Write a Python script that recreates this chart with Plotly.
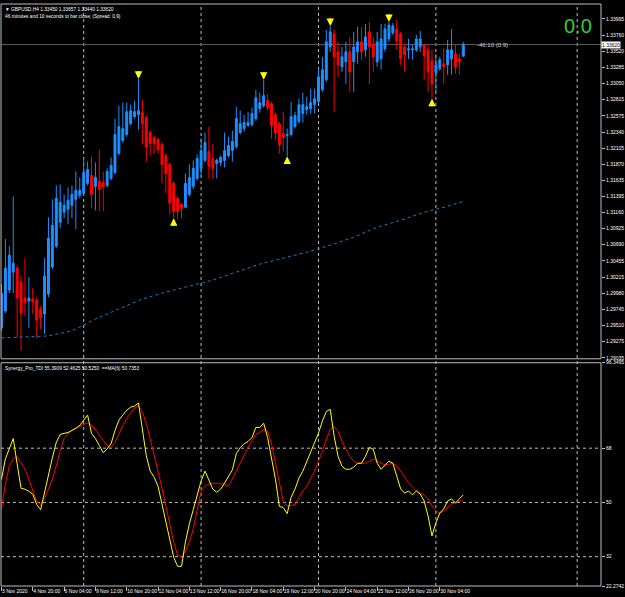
import plotly.graph_objects as go

# ---------------- data ----------------
bars = list(range(119))
open_ = [1.29472,1.29720,1.30027,1.30289,1.30348,1.30143,1.29910,1.29866,1.29895,1.29881,
         1.29749,1.29676,1.29968,1.30362,1.30668,1.31019,1.31165,1.31208,1.31267,1.31354,
         1.31413,1.31442,1.31588,1.31704,1.31544,1.31617,1.31602,1.31558,1.31661,1.31748,
         1.32025,1.32215,1.32303,1.32463,1.32565,1.32594,1.32624,1.32551,1.32332,1.32259,
         1.32230,1.32157,1.31996,1.31865,1.31588,1.31369,1.31281,1.31238,1.31427,1.31544,
         1.31661,1.31807,1.31923,1.32055,1.31952,1.31879,1.31894,1.31923,1.31996,1.32069,
         1.32127,1.32332,1.32390,1.32434,1.32448,1.32536,1.32682,1.32726,1.32799,1.32755,
         1.32594,1.32463,1.32317,1.32288,1.32303,1.32419,1.32492,1.32609,1.32667,1.32682,
         1.32740,1.32784,1.32959,1.33105,1.33586,1.33776,1.33514,1.33295,1.33368,1.33514,
         1.33368,1.33514,1.33659,1.33543,1.33805,1.33630,1.33368,1.33411,1.33557,1.33703,
         1.33791,1.33849,1.33776,1.33586,1.33543,1.33543,1.33543,1.33586,1.33616,1.33543,
         1.33382,1.33207,1.33265,1.33338,1.33324,1.33411,1.33484,1.33411,1.33450]
high = [1.30114,1.30771,1.30668,1.31398,1.30391,1.30231,1.30493,1.30216,1.30056,1.29924,
        1.29793,1.30493,1.31092,1.31354,1.31558,1.31573,1.31427,1.31529,1.31558,1.31763,
        1.31675,1.31952,1.31909,1.31982,1.31894,1.32084,1.31763,1.31807,1.31967,1.32536,
        1.32726,1.32769,1.32769,1.32740,1.32799,1.33120,1.32813,1.32580,1.32361,1.32288,
        1.32259,1.32186,1.32025,1.31894,1.31617,1.31398,1.31296,1.31734,1.31865,1.31923,
        1.32011,1.32244,1.32332,1.32419,1.32171,1.31952,1.31996,1.32332,1.32273,1.32361,
        1.32711,1.32653,1.32594,1.32638,1.32697,1.32959,1.32915,1.33105,1.32901,1.32784,
        1.32624,1.32492,1.32638,1.32390,1.32784,1.32638,1.32828,1.32915,1.32857,1.32974,
        1.32974,1.33265,1.33441,1.33834,1.33893,1.33834,1.33659,1.33586,1.33659,1.33732,
        1.33805,1.33878,1.33878,1.33922,1.33951,1.33732,1.33805,1.33922,1.33922,1.33951,
        1.33937,1.33980,1.33805,1.33630,1.33703,1.33616,1.33762,1.33820,1.33630,1.33616,
        1.33543,1.33484,1.33441,1.33572,1.33689,1.33849,1.33616,1.33484,1.33657]
low = [1.29428,1.29691,1.29983,1.29983,1.29326,1.29137,1.29647,1.29472,1.29676,1.29326,
       1.29458,1.29385,1.29924,1.30333,1.30639,1.30931,1.31077,1.30989,1.31077,1.30917,
       1.31369,1.31413,1.31558,1.31223,1.31194,1.31179,1.31179,1.31529,1.31631,1.31719,
       1.31996,1.32186,1.32273,1.32434,1.32536,1.32376,1.32157,1.31909,1.31996,1.32025,
       1.32025,1.31588,1.31442,1.31135,1.31077,1.31062,1.31077,1.31223,1.31398,1.31500,
       1.31631,1.31690,1.31894,1.31661,1.31646,1.31661,1.31836,1.31821,1.31967,1.31909,
       1.32098,1.32303,1.32346,1.32419,1.32419,1.32507,1.32624,1.32697,1.32653,1.32244,
       1.32230,1.32025,1.32055,1.31982,1.32273,1.32390,1.32463,1.32478,1.32594,1.32609,
       1.32609,1.32755,1.32930,1.33076,1.33514,1.32638,1.33149,1.33222,1.33047,1.32930,
       1.32930,1.33338,1.33397,1.33441,1.33047,1.33222,1.33295,1.33251,1.33514,1.33659,
       1.33762,1.33543,1.33324,1.33222,1.33411,1.33397,1.33514,1.33514,1.33105,1.32930,
       1.32828,1.32930,1.33236,1.33047,1.33178,1.33178,1.33193,1.33178,1.33440]
close = [1.29983,1.30348,1.30537,1.30420,1.29910,1.29691,1.29837,1.29910,1.29851,1.29589,
         1.29618,1.30231,1.30785,1.30975,1.31369,1.31310,1.31267,1.31340,1.31427,1.31486,
         1.31486,1.31748,1.31792,1.31427,1.31675,1.31500,1.31544,1.31763,1.31850,1.32303,
         1.32419,1.32390,1.32638,1.32653,1.32638,1.32653,1.32463,1.32113,1.32171,1.32171,
         1.32084,1.31865,1.31734,1.31296,1.31179,1.31179,1.31223,1.31588,1.31675,1.31807,
         1.31952,1.32069,1.32186,1.31836,1.31807,1.31923,1.31967,1.32069,1.32142,1.32200,
         1.32536,1.32463,1.32478,1.32478,1.32609,1.32842,1.32769,1.32872,1.32697,1.32434,
         1.32332,1.32157,1.32259,1.32303,1.32565,1.32580,1.32740,1.32740,1.32711,1.32769,
         1.32828,1.33149,1.33251,1.33659,1.33805,1.33441,1.33324,1.33441,1.33514,1.33222,
         1.33586,1.33659,1.33514,1.33732,1.33586,1.33441,1.33659,1.33703,1.33849,1.33907,
         1.33893,1.33674,1.33411,1.33470,1.33557,1.33557,1.33703,1.33703,1.33455,1.33222,
         1.33047,1.33324,1.33397,1.33295,1.33543,1.33543,1.33295,1.33368,1.33620]

ma_bars = [0, 6, 12, 18, 24, 30, 36, 42, 48, 54, 60, 66, 72, 78, 84, 90, 96, 102, 108, 114, 118]
ma_vals = [1.29326,1.29341,1.29355,1.29428,1.29603,1.29749,1.29895,1.29997,1.30085,1.30172,
           1.30289,1.30406,1.30493,1.30581,1.30683,1.30800,1.30946,1.31048,1.31165,1.31252,1.31325]

down_bars = [35, 67, 84, 99]   # sell arrows above these bars' highs
up_bars = [44, 73, 110]        # buy arrows below these bars' lows

tdi_price = [57.7,64.5,67.8,71.2,62.8,54.7,54.4,53.7,52.7,49.3,
             47.6,53.7,59.8,64.8,69.9,72.6,72.9,73.2,73.9,74.6,
             75.6,77.3,79.0,72.9,71.2,68.9,66.5,67.8,69.5,73.9,
             77.3,79.0,80.6,81.6,82.0,83.0,74.9,65.5,60.4,58.4,
             55.4,49.3,43.6,37.9,31.8,28.8,28.8,36.9,42.9,47.6,
             52.7,57.1,60.4,57.1,54.4,53.4,54.4,56.4,58.8,60.8,
             66.2,68.2,69.5,70.2,71.5,74.9,74.9,76.3,71.5,64.8,
             57.7,48.7,48.3,46.3,51.7,54.4,58.1,60.4,63.7,67.0,
             70.3,73.0,77.0,80.2,80.9,72.0,65.3,62.0,61.0,61.0,
             61.7,63.0,63.0,65.3,68.3,67.6,63.0,61.0,62.4,63.7,
             63.0,58.7,54.5,53.1,53.8,52.5,53.8,52.8,50.5,45.5,
             38.9,43.2,46.5,47.9,50.5,51.2,49.8,51.2,52.5]
tdi_signal = [48.0,56.1,62.1,64.5,65.2,63.1,61.1,57.7,53.7,50.3,
              49.3,51.3,54.4,57.7,62.1,67.2,71.2,72.9,73.9,74.6,
              75.3,75.9,76.3,75.6,74.2,72.2,70.5,68.9,68.2,69.9,
              72.9,75.6,77.9,79.6,81.3,82.0,80.0,76.3,71.2,66.2,
              60.4,54.7,48.7,42.6,36.9,32.5,31.8,33.8,36.9,41.2,
              47.6,53.7,55.4,56.1,56.4,56.4,56.1,56.1,55.4,57.7,
              60.4,63.1,65.8,68.2,70.5,72.6,73.2,74.2,73.6,69.5,
              63.1,56.4,50.3,48.7,49.0,49.3,51.7,53.8,55.4,57.8,
              60.4,63.7,67.0,71.0,74.3,75.2,73.6,70.3,67.7,65.3,
              63.7,63.0,63.0,63.0,63.7,64.4,63.7,63.0,62.4,62.7,
              63.0,62.0,60.4,58.4,56.4,55.1,53.8,53.1,52.5,51.2,
              48.8,47.2,46.5,47.2,48.5,49.5,49.8,50.5,50.5]

x_tick_bars = [0, 8, 16, 24, 32, 40, 48, 56, 64, 72, 80, 88, 96, 104, 112]
x_tick_text = ["3 Nov 2020", "4 Nov 20:00", "6 Nov 04:00", "9 Nov 12:00", "10 Nov 20:00",
               "12 Nov 04:00", "13 Nov 12:00", "16 Nov 20:00", "18 Nov 04:00", "19 Nov 12:00",
               "20 Nov 20:00", "24 Nov 04:00", "25 Nov 12:00", "26 Nov 20:00", "30 Nov 04:00"]
price_ticks = [1.33995,1.33760,1.33520,1.33285,1.33050,1.32815,1.32575,1.32340,1.32105,1.31870,
               1.31635,1.31395,1.31160,1.30925,1.30690,1.30455,1.30215,1.29980,1.29745,1.29510,
               1.29275,1.29035]
tdi_ticks = [96.3495, 68, 50, 32, 22.2742]
tdi_tick_text = ["96.3495", "68", "50", "32", "22.2742"]
tdi_levels = [68, 50, 32]
separator_bars = [21, 51, 81, 111, 147.1]
current_price = 1.33620

# ---------------- figure ----------------
FONT = "Liberation Sans, Arial, sans-serif"
BLUE = "#1E90FF"
RED = "#FF0000"
YEL = "#FFFF00"
GRID = "#bdbdbd"
FS = 5

fig = go.Figure()

fig.add_trace(go.Scatter(x=ma_bars, y=ma_vals, mode="lines",
                         line=dict(color="#1b7cc4", width=1, dash="dot"),
                         xaxis="x", yaxis="y", hoverinfo="skip"))

fig.add_trace(go.Candlestick(x=bars, open=open_, high=high, low=low, close=close,
                             increasing=dict(line=dict(color=BLUE, width=1), fillcolor=BLUE),
                             decreasing=dict(line=dict(color=RED, width=1), fillcolor=RED),
                             whiskerwidth=0, xaxis="x", yaxis="y"))

fig.add_trace(go.Scatter(x=bars, y=tdi_signal, mode="lines",
                         line=dict(color=RED, width=1), xaxis="x2", yaxis="y2"))
fig.add_trace(go.Scatter(x=bars, y=tdi_price, mode="lines",
                         line=dict(color=YEL, width=1), xaxis="x2", yaxis="y2"))

xr = [-0.128, 153.19]
UP_DOM = [0.3904, 1.0]
LO_DOM = [0.0, 0.3836]

fig.update_layout(
    width=625, height=597,
    margin=dict(l=1, r=23, t=2, b=11),
    paper_bgcolor="black", plot_bgcolor="black",
    showlegend=False,
    font=dict(family=FONT, size=FS, color="white"),
    xaxis=dict(domain=[0, 1], range=xr, showticklabels=False, showgrid=False,
               zeroline=False, rangeslider=dict(visible=False), anchor="y",
               matches="x2"),
    xaxis2=dict(domain=[0, 1], range=xr, anchor="y2", showgrid=False, zeroline=False,
                tickmode="array", tickvals=x_tick_bars, ticktext=x_tick_text,
                ticks="outside", ticklen=4, tickcolor=GRID, tickangle=0,
                ticklabelposition="outside right",
                tickfont=dict(family=FONT, size=FS, color="white")),
    yaxis=dict(domain=UP_DOM, range=[1.29020, 1.34214], side="right", showgrid=False,
               zeroline=False, tickmode="array", tickvals=price_ticks,
               ticktext=[f"{v:.5f}" for v in price_ticks],
               ticks="outside", ticklen=3, tickcolor=GRID,
               tickfont=dict(family=FONT, size=FS, color="white")),
    yaxis2=dict(domain=LO_DOM, range=[22.2742, 96.3495], side="right", showgrid=False,
                zeroline=False, tickmode="array", tickvals=tdi_ticks,
                ticktext=tdi_tick_text,
                ticks="outside", ticklen=3, tickcolor=GRID,
                tickfont=dict(family=FONT, size=FS, color="white")),
)

shapes = []
for b in separator_bars:
    shapes.append(dict(type="line", xref="x", yref="paper", x0=b, x1=b, y0=0, y1=1,
                       line=dict(color=GRID, width=1, dash="dot"), layer="below"))
for lv in tdi_levels:
    shapes.append(dict(type="line", xref="paper", yref="y2", x0=0, x1=1, y0=lv, y1=lv,
                       line=dict(color=GRID, width=1, dash="dot"), layer="below"))
shapes.append(dict(type="line", xref="paper", yref="y", x0=0, x1=1,
                   y0=current_price, y1=current_price,
                   line=dict(color="#5a5a5a", width=1), layer="below"))
shapes.append(dict(type="rect", xref="paper", yref="paper", x0=0, x1=1,
                   y0=UP_DOM[0], y1=UP_DOM[1], line=dict(color=GRID, width=1)))
shapes.append(dict(type="rect", xref="paper", yref="paper", x0=0, x1=1,
                   y0=LO_DOM[0], y1=LO_DOM[1], line=dict(color=GRID, width=1)))
fig.update_layout(shapes=shapes)

annotations = [
    dict(xref="paper", yref="paper", x=0.004, y=0.999, xanchor="left", yanchor="top",
         text="▼ GBPUSD,H4 1.33450 1.33657 1.33440 1.33620", showarrow=False,
         font=dict(family=FONT, size=4.8, color="white")),
    dict(xref="paper", yref="paper", x=0.004, y=0.986, xanchor="left", yanchor="top",
         text="46 minutes and 10 seconds to bar close; (Spread: 0.9)", showarrow=False,
         font=dict(family=FONT, size=4.8, color="white")),
    dict(xref="paper", yref="paper", x=0.004, y=LO_DOM[1] - 0.002, xanchor="left", yanchor="top",
         text="Synergy_Pro_TDI 55.3909 52.4625 50.5250  ==MA(6) 50.7353", showarrow=False,
         font=dict(family=FONT, size=4.8, color="white")),
    dict(xref="paper", yref="y", x=1.0, y=current_price, xanchor="left", yanchor="middle",
         text="1.33620", showarrow=False, bgcolor="white", borderpad=0,
         font=dict(family=FONT, size=FS, color="black")),
    dict(xref="x", yref="y", x=121, y=current_price, xanchor="left", yanchor="middle",
         text="-46:10 (0.9)", showarrow=False,
         font=dict(family=FONT, size=6, color="#d0d0d0")),
    dict(xref="x", yref="y", x=147.3, y=1.33893, xanchor="center", yanchor="middle",
         text="0.0", showarrow=False,
         font=dict(family=FONT, size=20, color="#32CD32")),
]
for b in down_bars:
    annotations.append(dict(xref="x", yref="y", x=b, y=high[b], text="", showarrow=True,
                            ax=0, ay=-9, arrowhead=2, arrowsize=0.75, arrowwidth=2,
                            arrowcolor=YEL, standoff=0))
for b in up_bars:
    annotations.append(dict(xref="x", yref="y", x=b, y=low[b], text="", showarrow=True,
                            ax=0, ay=9, arrowhead=2, arrowsize=0.75, arrowwidth=2,
                            arrowcolor=YEL, standoff=0))
fig.update_layout(annotations=annotations)

fig.write_html("out.html")
